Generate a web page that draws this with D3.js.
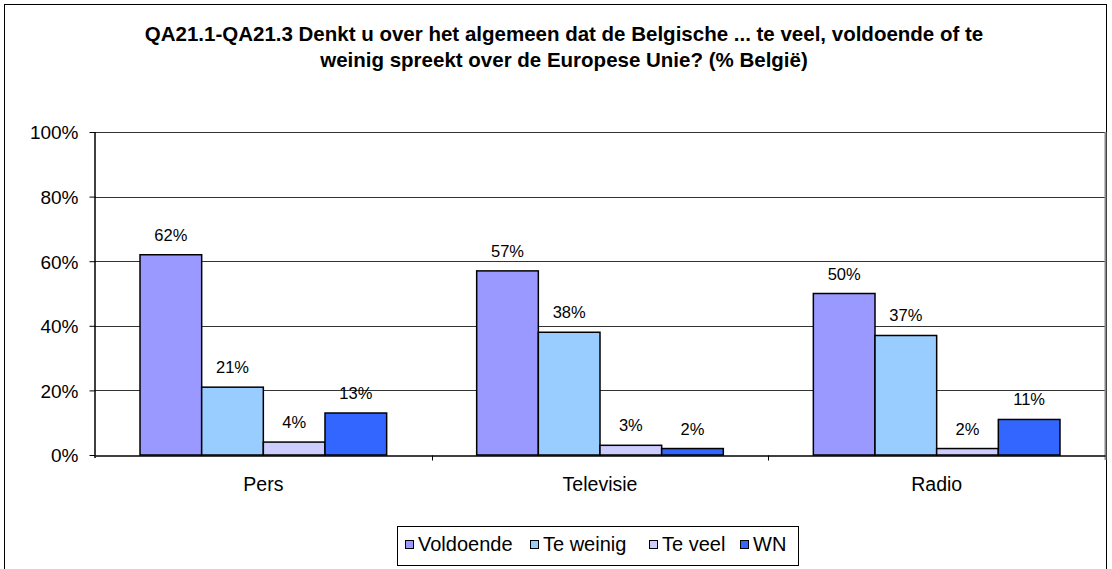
<!DOCTYPE html>
<html>
<head>
<meta charset="utf-8">
<style>
  body { margin: 0; background: #fff; }
  text { font-family: "Liberation Sans", Arial, sans-serif; }
</style>
</head>
<body>
<svg></svg>
<script src="https://cdnjs.cloudflare.com/ajax/libs/d3/7.8.5/d3.min.js"></script>
<script>
  // categories and series
  const categories = ['Pers', 'Televisie', 'Radio']
  const seriesNames = ['Voldoende', 'Te weinig', 'Te veel', 'WN']
  const seriesColors = ['#9999ff', '#99ccff', '#ccccff', '#3366ff']
  const voldoende = [62, 57, 50]
  const teWeinig = [21, 38, 37]
  const teVeel = [4, 3, 2]
  const wn = [13, 2, 11]
  const yTicks = [0, 20, 40, 60, 80, 100]
  const titleLines = [
    'QA21.1-QA21.3 Denkt u over het algemeen dat de Belgische ... te veel, voldoende of te',
    'weinig spreekt over de Europese Unie? (% België)'
  ]

  const seriesValues = [voldoende, teWeinig, teVeel, wn]

  const width = 1112, height = 569
  const plot = { left: 95, right: 1105, top: 132, bottom: 455 }
  const font = '"Liberation Sans", Arial, sans-serif'

  const svg = d3.select('svg').attr('width', width).attr('height', height)

  // outer frame
  svg.append('rect')
    .attr('x', 4.5).attr('y', 4.5)
    .attr('width', 1102).attr('height', 570)
    .attr('fill', 'none').attr('stroke', '#000').attr('stroke-width', 1)

  // title
  svg.append('g').selectAll('text')
    .data(titleLines)
    .enter().append('text')
    .attr('x', 564)
    .attr('y', (d, i) => 41 + i * 26)
    .attr('text-anchor', 'middle')
    .style('font-size', '20.5px')
    .style('font-weight', 'bold')
    .text(d => d)

  const x = d3.scaleBand().domain(categories).range([plot.left, plot.right])
  const xInner = d3.scaleBand().domain(seriesNames).range([0, x.bandwidth()]).paddingOuter(0.73)
  const y = d3.scaleLinear().domain([0, 100]).range([plot.bottom, plot.top])

  // gridlines
  svg.append('g').selectAll('line')
    .data(yTicks.filter(d => d > 0))
    .enter().append('line')
    .attr('x1', plot.left).attr('x2', plot.right)
    .attr('y1', d => Math.round(y(d)) + 0.5).attr('y2', d => Math.round(y(d)) + 0.5)
    .attr('stroke', '#333').attr('stroke-width', 1)

  // plot area right edge
  svg.append('line')
    .attr('x1', plot.right + 0.5).attr('x2', plot.right + 0.5)
    .attr('y1', plot.top).attr('y2', plot.bottom + 5)
    .attr('stroke', '#888').attr('stroke-width', 2)

  // bars
  const groups = svg.append('g').selectAll('g')
    .data(categories)
    .enter().append('g')
    .attr('transform', d => `translate(${x(d)},0)`)

  groups.selectAll('rect')
    .data((c, ci) => seriesNames.map((s, si) => ({ s, v: seriesValues[si][ci], color: seriesColors[si] })))
    .enter().append('rect')
    .attr('x', d => xInner(d.s))
    .attr('y', d => y(d.v))
    .attr('width', xInner.bandwidth())
    .attr('height', d => y(0) - y(d.v))
    .attr('fill', d => d.color)
    .attr('stroke', '#000').attr('stroke-width', 1.5)

  groups.selectAll('text')
    .data((c, ci) => seriesNames.map((s, si) => ({ s, v: seriesValues[si][ci] })))
    .enter().append('text')
    .attr('x', d => xInner(d.s) + xInner.bandwidth() / 2)
    .attr('y', d => y(d.v) - 14)
    .attr('text-anchor', 'middle')
    .style('font-size', '16.5px')
    .text(d => d.v + '%')

  // y axis
  const yAxis = svg.append('g')
    .attr('transform', `translate(${plot.left + 0.5},0)`)
    .call(d3.axisLeft(y).tickValues(yTicks).tickFormat(d => d + '%').tickSize(6).tickPadding(11))
  yAxis.select('.domain').attr('d', `M-0.5,${plot.top}V${plot.bottom + 3}`).attr('stroke', '#000').attr('stroke-width', 1.5)
  yAxis.selectAll('.tick line').attr('stroke', '#000')
  yAxis.selectAll('.tick text')
    .attr('dy', '0.36em')
    .style('font-size', '19px').style('font-family', font).attr('fill', '#000')

  // x axis
  const xAxis = svg.append('g')
    .attr('transform', `translate(0,${plot.bottom + 0.5})`)
    .call(d3.axisBottom(x).tickSize(0))
  xAxis.select('.domain').attr('stroke', '#000').attr('stroke-width', 1.5)
  xAxis.selectAll('.tick text')
    .attr('y', 35).attr('dy', 0)
    .style('font-size', '19.5px').style('font-family', font).attr('fill', '#000')
  xAxis.selectAll('line.sep')
    .data(categories.slice(1))
    .enter().append('line')
    .attr('class', 'sep')
    .attr('x1', d => Math.round(x(d)) + 0.5).attr('x2', d => Math.round(x(d)) + 0.5)
    .attr('y1', 0).attr('y2', 5)
    .attr('stroke', '#000')

  // legend
  const legend = svg.append('g').attr('transform', 'translate(397,526)')
  legend.append('rect')
    .attr('x', 0.5).attr('y', 0.5).attr('width', 401).attr('height', 39)
    .attr('fill', '#fff').attr('stroke', '#000')
  const legendX = [8, 133, 252, 343]
  const items = legend.selectAll('g.item')
    .data(seriesNames)
    .enter().append('g')
    .attr('class', 'item')
    .attr('transform', (d, i) => `translate(${legendX[i]},0)`)
  items.append('rect')
    .attr('x', 0.5).attr('y', 14.5).attr('width', 8).attr('height', 8)
    .attr('fill', (d, i) => seriesColors[i]).attr('stroke', '#000')
  items.append('text')
    .attr('x', 13).attr('y', 25)
    .style('font-size', '20px')
    .text(d => d)
</script>
</body>
</html>
